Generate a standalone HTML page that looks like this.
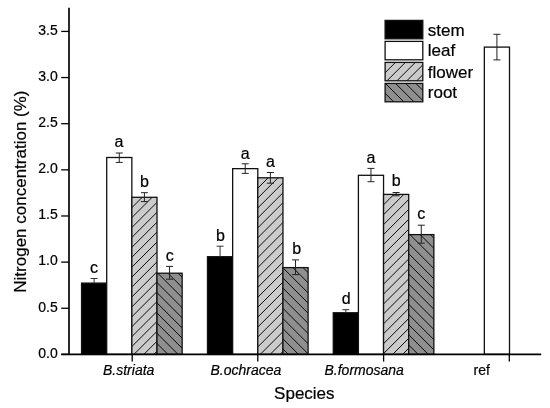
<!DOCTYPE html>
<html><head><meta charset="utf-8"><style>
html,body{margin:0;padding:0;background:#fff;}
svg{display:block;will-change:transform;}
text{font-family:"Liberation Sans",sans-serif;fill:#000;stroke:#000;stroke-width:0.2px;}
</style></head><body>
<svg width="550" height="408" viewBox="0 0 550 408">
<rect width="550" height="408" fill="#fff"/>
<rect x="81.55" y="283.10" width="25.15" height="71.30" fill="#000"/><rect x="81.55" y="283.10" width="25.15" height="71.30" fill="none" stroke="#111" stroke-width="1.3"/>
<rect x="106.70" y="157.50" width="25.15" height="196.90" fill="#fff"/><rect x="106.70" y="157.50" width="25.15" height="196.90" fill="none" stroke="#111" stroke-width="1.3"/>
<rect x="131.85" y="197.30" width="25.15" height="157.10" fill="#cbcbcb"/><clipPath id="c1"><rect x="131.85" y="197.30" width="25.15" height="157.10"/></clipPath><path d="M134.30 195.30L127.85 201.75M144.22 195.30L127.85 211.67M154.14 195.30L127.85 221.59M164.06 195.30L127.85 231.51M173.98 195.30L127.85 241.43M183.90 195.30L127.85 251.35M193.82 195.30L127.85 261.27M203.74 195.30L127.85 271.19M213.66 195.30L127.85 281.11M223.58 195.30L127.85 291.03M233.50 195.30L127.85 300.95M243.42 195.30L127.85 310.87M253.34 195.30L127.85 320.79M263.26 195.30L127.85 330.71M273.18 195.30L127.85 340.63M283.10 195.30L127.85 350.55M293.02 195.30L127.85 360.47M302.94 195.30L127.85 370.39M312.86 195.30L127.85 380.31M322.78 195.30L127.85 390.23" stroke="#000" stroke-width="0.95" fill="none" clip-path="url(#c1)"/><rect x="131.85" y="197.30" width="25.15" height="157.10" fill="none" stroke="#111" stroke-width="1.3"/>
<rect x="157.00" y="273.20" width="25.15" height="81.20" fill="#8f8f8f"/><clipPath id="c2"><rect x="157.00" y="273.20" width="25.15" height="81.20"/></clipPath><path d="M54.30 271.20L166.65 383.55M64.45 271.20L176.80 383.55M74.60 271.20L186.95 383.55M84.75 271.20L197.10 383.55M94.90 271.20L207.25 383.55M105.05 271.20L217.40 383.55M115.20 271.20L227.55 383.55M125.35 271.20L237.70 383.55M135.50 271.20L247.85 383.55M145.65 271.20L258.00 383.55M155.80 271.20L268.15 383.55M165.95 271.20L278.30 383.55M176.10 271.20L288.45 383.55M186.25 271.20L298.60 383.55" stroke="#000" stroke-width="0.95" fill="none" clip-path="url(#c2)"/><rect x="157.00" y="273.20" width="25.15" height="81.20" fill="none" stroke="#111" stroke-width="1.3"/>
<rect x="207.50" y="256.70" width="25.15" height="97.70" fill="#000"/><rect x="207.50" y="256.70" width="25.15" height="97.70" fill="none" stroke="#111" stroke-width="1.3"/>
<rect x="232.65" y="168.65" width="25.15" height="185.75" fill="#fff"/><rect x="232.65" y="168.65" width="25.15" height="185.75" fill="none" stroke="#111" stroke-width="1.3"/>
<rect x="257.80" y="177.80" width="25.15" height="176.60" fill="#cbcbcb"/><clipPath id="c3"><rect x="257.80" y="177.80" width="25.15" height="176.60"/></clipPath><path d="M260.25 175.80L253.80 182.25M270.17 175.80L253.80 192.17M280.09 175.80L253.80 202.09M290.01 175.80L253.80 212.01M299.93 175.80L253.80 221.93M309.85 175.80L253.80 231.85M319.77 175.80L253.80 241.77M329.69 175.80L253.80 251.69M339.61 175.80L253.80 261.61M349.53 175.80L253.80 271.53M359.45 175.80L253.80 281.45M369.37 175.80L253.80 291.37M379.29 175.80L253.80 301.29M389.21 175.80L253.80 311.21M399.13 175.80L253.80 321.13M409.05 175.80L253.80 331.05M418.97 175.80L253.80 340.97M428.89 175.80L253.80 350.89M438.81 175.80L253.80 360.81M448.73 175.80L253.80 370.73M458.65 175.80L253.80 380.65M468.57 175.80L253.80 390.57" stroke="#000" stroke-width="0.95" fill="none" clip-path="url(#c3)"/><rect x="257.80" y="177.80" width="25.15" height="176.60" fill="none" stroke="#111" stroke-width="1.3"/>
<rect x="282.95" y="267.60" width="25.15" height="86.80" fill="#8f8f8f"/><clipPath id="c4"><rect x="282.95" y="267.60" width="25.15" height="86.80"/></clipPath><path d="M179.25 265.60L297.20 383.55M189.40 265.60L307.35 383.55M199.55 265.60L317.50 383.55M209.70 265.60L327.65 383.55M219.85 265.60L337.80 383.55M230.00 265.60L347.95 383.55M240.15 265.60L358.10 383.55M250.30 265.60L368.25 383.55M260.45 265.60L378.40 383.55M270.60 265.60L388.55 383.55M280.75 265.60L398.70 383.55M290.90 265.60L408.85 383.55M301.05 265.60L419.00 383.55M311.20 265.60L429.15 383.55" stroke="#000" stroke-width="0.95" fill="none" clip-path="url(#c4)"/><rect x="282.95" y="267.60" width="25.15" height="86.80" fill="none" stroke="#111" stroke-width="1.3"/>
<rect x="333.25" y="312.75" width="25.15" height="41.65" fill="#000"/><rect x="333.25" y="312.75" width="25.15" height="41.65" fill="none" stroke="#111" stroke-width="1.3"/>
<rect x="358.40" y="175.30" width="25.15" height="179.10" fill="#fff"/><rect x="358.40" y="175.30" width="25.15" height="179.10" fill="none" stroke="#111" stroke-width="1.3"/>
<rect x="383.55" y="194.40" width="25.15" height="160.00" fill="#cbcbcb"/><clipPath id="c5"><rect x="383.55" y="194.40" width="25.15" height="160.00"/></clipPath><path d="M386.00 192.40L379.55 198.85M395.92 192.40L379.55 208.77M405.84 192.40L379.55 218.69M415.76 192.40L379.55 228.61M425.68 192.40L379.55 238.53M435.60 192.40L379.55 248.45M445.52 192.40L379.55 258.37M455.44 192.40L379.55 268.29M465.36 192.40L379.55 278.21M475.28 192.40L379.55 288.13M485.20 192.40L379.55 298.05M495.12 192.40L379.55 307.97M505.04 192.40L379.55 317.89M514.96 192.40L379.55 327.81M524.88 192.40L379.55 337.73M534.80 192.40L379.55 347.65M544.72 192.40L379.55 357.57M554.64 192.40L379.55 367.49M564.56 192.40L379.55 377.41M574.48 192.40L379.55 387.33" stroke="#000" stroke-width="0.95" fill="none" clip-path="url(#c5)"/><rect x="383.55" y="194.40" width="25.15" height="160.00" fill="none" stroke="#111" stroke-width="1.3"/>
<rect x="408.70" y="234.60" width="25.15" height="119.80" fill="#8f8f8f"/><clipPath id="c6"><rect x="408.70" y="234.60" width="25.15" height="119.80"/></clipPath><path d="M276.05 232.60L427.00 383.55M286.20 232.60L437.15 383.55M296.35 232.60L447.30 383.55M306.50 232.60L457.45 383.55M316.65 232.60L467.60 383.55M326.80 232.60L477.75 383.55M336.95 232.60L487.90 383.55M347.10 232.60L498.05 383.55M357.25 232.60L508.20 383.55M367.40 232.60L518.35 383.55M377.55 232.60L528.50 383.55M387.70 232.60L538.65 383.55M397.85 232.60L548.80 383.55M408.00 232.60L558.95 383.55M418.15 232.60L569.10 383.55M428.30 232.60L579.25 383.55M438.45 232.60L589.40 383.55" stroke="#000" stroke-width="0.95" fill="none" clip-path="url(#c6)"/><rect x="408.70" y="234.60" width="25.15" height="119.80" fill="none" stroke="#111" stroke-width="1.3"/>
<rect x="484.35" y="47.10" width="25.15" height="307.30" fill="#fff"/><rect x="484.35" y="47.10" width="25.15" height="307.30" fill="none" stroke="#111" stroke-width="1.3"/>
<path d="M90.62 278.50H97.62M94.12 278.50V283.10" stroke="#333" stroke-width="1" fill="none"/>
<text x="94.12" y="272.80" font-size="16" text-anchor="middle">c</text>
<path d="M115.77 153.00H122.77M119.27 153.00V162.40M115.77 162.40H122.77" stroke="#222" stroke-width="1" fill="none"/>
<text x="119.07" y="146.70" font-size="16" text-anchor="middle">a</text>
<path d="M140.92 192.70H147.92M144.42 192.70V201.60M140.92 201.60H147.92" stroke="#222" stroke-width="1" fill="none"/>
<text x="144.42" y="186.90" font-size="16" text-anchor="middle">b</text>
<path d="M166.07 266.40H173.07M169.57 266.40V279.20M166.07 279.20H173.07" stroke="#222" stroke-width="1" fill="none"/>
<text x="169.77" y="261.00" font-size="16" text-anchor="middle">c</text>
<path d="M216.57 246.20H223.57M220.07 246.20V256.70" stroke="#333" stroke-width="1" fill="none"/>
<text x="220.38" y="240.70" font-size="16" text-anchor="middle">b</text>
<path d="M241.72 163.80H248.72M245.22 163.80V173.40M241.72 173.40H248.72" stroke="#222" stroke-width="1" fill="none"/>
<text x="245.22" y="158.60" font-size="16" text-anchor="middle">a</text>
<path d="M266.88 172.50H273.88M270.38 172.50V183.20M266.88 183.20H273.88" stroke="#222" stroke-width="1" fill="none"/>
<text x="270.38" y="167.40" font-size="16" text-anchor="middle">a</text>
<path d="M292.02 259.90H299.02M295.52 259.90V274.60M292.02 274.60H299.02" stroke="#222" stroke-width="1" fill="none"/>
<text x="296.72" y="254.10" font-size="16" text-anchor="middle">b</text>
<path d="M342.32 309.70H349.32M345.82 309.70V312.75" stroke="#333" stroke-width="1" fill="none"/>
<text x="346.22" y="303.60" font-size="16" text-anchor="middle">d</text>
<path d="M367.47 168.40H374.47M370.97 168.40V181.70M367.47 181.70H374.47" stroke="#222" stroke-width="1" fill="none"/>
<text x="370.97" y="162.70" font-size="16" text-anchor="middle">a</text>
<path d="M392.62 192.50H399.62M396.12 192.50V195.80M392.62 195.80H399.62" stroke="#222" stroke-width="1" fill="none"/>
<text x="396.12" y="185.60" font-size="16" text-anchor="middle">b</text>
<path d="M417.77 225.20H424.77M421.27 225.20V243.20M417.77 243.20H424.77" stroke="#222" stroke-width="1" fill="none"/>
<text x="421.27" y="218.80" font-size="16" text-anchor="middle">c</text>
<path d="M493.42 34.30H500.42M496.92 34.30V59.90M493.42 59.90H500.42" stroke="#222" stroke-width="1" fill="none"/>
<path d="M69 7.8V355.2M61.2 354.4H541.2" stroke="#000" stroke-width="1.65" fill="none"/>
<path d="M61.2 354.40H69" stroke="#000" stroke-width="1.3"/>
<text x="57.7" y="357.70" font-size="14" text-anchor="end">0.0</text>
<path d="M61.2 308.26H69" stroke="#000" stroke-width="1.3"/>
<text x="57.7" y="311.56" font-size="14" text-anchor="end">0.5</text>
<path d="M61.2 262.12H69" stroke="#000" stroke-width="1.3"/>
<text x="57.7" y="265.42" font-size="14" text-anchor="end">1.0</text>
<path d="M61.2 215.98H69" stroke="#000" stroke-width="1.3"/>
<text x="57.7" y="219.28" font-size="14" text-anchor="end">1.5</text>
<path d="M61.2 169.84H69" stroke="#000" stroke-width="1.3"/>
<text x="57.7" y="173.14" font-size="14" text-anchor="end">2.0</text>
<path d="M61.2 123.70H69" stroke="#000" stroke-width="1.3"/>
<text x="57.7" y="127.00" font-size="14" text-anchor="end">2.5</text>
<path d="M61.2 77.56H69" stroke="#000" stroke-width="1.3"/>
<text x="57.7" y="80.86" font-size="14" text-anchor="end">3.0</text>
<path d="M61.2 31.42H69" stroke="#000" stroke-width="1.3"/>
<text x="57.7" y="34.72" font-size="14" text-anchor="end">3.5</text>
<path d="M132.20 354.4V361.6" stroke="#000" stroke-width="1.3"/>
<path d="M257.80 354.4V361.6" stroke="#000" stroke-width="1.3"/>
<path d="M383.60 354.4V361.6" stroke="#000" stroke-width="1.3"/>
<path d="M509.30 354.4V361.6" stroke="#000" stroke-width="1.3"/>
<text x="103" y="374.8" font-size="14" font-style="italic">B.striata</text>
<text x="210.5" y="374.8" font-size="14" font-style="italic">B.ochracea</text>
<text x="324.5" y="374.8" font-size="14" font-style="italic">B.formosana</text>
<text x="473.5" y="374.8" font-size="14">ref</text>
<text x="274.1" y="399.4" font-size="17">Species</text>
<text transform="translate(25.5 191.6) rotate(-90)" font-size="17" text-anchor="middle">Nitrogen concentration (%)</text>
<rect x="385.10" y="20.40" width="37.70" height="18.40" fill="#000"/><rect x="385.10" y="20.40" width="37.70" height="18.40" fill="none" stroke="#111" stroke-width="1.3"/>
<text x="427.8" y="35.80" font-size="17">stem</text>
<rect x="385.10" y="41.40" width="37.70" height="18.40" fill="#fff"/><rect x="385.10" y="41.40" width="37.70" height="18.40" fill="none" stroke="#111" stroke-width="1.3"/>
<text x="427.8" y="56.20" font-size="17">leaf</text>
<rect x="385.10" y="62.40" width="37.70" height="18.40" fill="#cbcbcb"/><clipPath id="c7"><rect x="385.10" y="62.40" width="37.70" height="18.40"/></clipPath><path d="M387.55 60.40L381.10 66.85M397.47 60.40L381.10 76.77M407.39 60.40L381.10 86.69M417.31 60.40L381.10 96.61M427.23 60.40L381.10 106.53M437.15 60.40L381.10 116.45M447.07 60.40L381.10 126.37" stroke="#000" stroke-width="0.95" fill="none" clip-path="url(#c7)"/><rect x="385.10" y="62.40" width="37.70" height="18.40" fill="none" stroke="#111" stroke-width="1.3"/>
<text x="427.8" y="77.90" font-size="17">flower</text>
<rect x="385.10" y="83.40" width="37.70" height="18.40" fill="#8f8f8f"/><clipPath id="c8"><rect x="385.10" y="83.40" width="37.70" height="18.40"/></clipPath><path d="M352.95 81.40L415.05 143.50M363.10 81.40L425.20 143.50M373.25 81.40L435.35 143.50M383.40 81.40L445.50 143.50M393.55 81.40L455.65 143.50M403.70 81.40L465.80 143.50M413.85 81.40L475.95 143.50M424.00 81.40L486.10 143.50" stroke="#000" stroke-width="0.95" fill="none" clip-path="url(#c8)"/><rect x="385.10" y="83.40" width="37.70" height="18.40" fill="none" stroke="#111" stroke-width="1.3"/>
<text x="427.8" y="98.20" font-size="17">root</text>
</svg></body></html>
